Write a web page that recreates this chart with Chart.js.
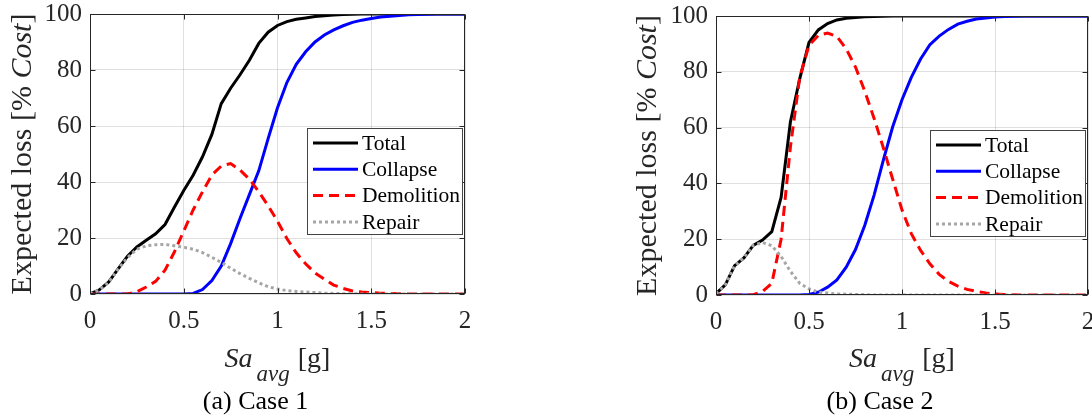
<!DOCTYPE html>
<html>
<head>
<meta charset="utf-8">
<script src="https://cdn.jsdelivr.net/npm/chart.js@4.4.1/dist/chart.umd.min.js"></script>
<style>
    html, body { margin: 0; padding: 0; background: #fff; }
    .wrap { position: relative; width: 1092px; height: 417px; overflow: hidden; font-family: 'Liberation Serif', serif; }
    .panel { position: absolute; top: 0; width: 546px; height: 417px; }
    #panelA { left: 0; }
    #panelB { left: 546px; }
</style>
</head>
<body>
<div class="wrap">
    <div class="panel" id="panelA"><canvas id="chartA" width="546" height="417"></canvas></div>
    <div class="panel" id="panelB"><canvas id="chartB" width="546" height="417"></canvas></div>
</div>
<script>
// Sa_avg [g]
const sa = [0, 0.05, 0.1, 0.15, 0.2, 0.25, 0.3, 0.35, 0.4, 0.45, 0.5, 0.55, 0.6, 0.65, 0.7, 0.75, 0.8, 0.85, 0.9, 0.95,
            1, 1.05, 1.1, 1.15, 1.2, 1.25, 1.3, 1.35, 1.4, 1.45, 1.5, 1.55, 1.6, 1.65, 1.7, 1.75, 1.8, 1.85, 1.9, 1.95, 2];

const xTicks = [0, 0.5, 1, 1.5, 2];
const xTickLabels = ['0', '0.5', '1', '1.5', '2'];
const yTicks = [0, 20, 40, 60, 80, 100];
const seriesNames = ['Total', 'Collapse', 'Demolition', 'Repair'];

// (a) Case 1
const totalA = [0, 1.5, 4.3, 9, 13.5, 16.8, 19.2, 21.5, 24.8, 31, 37, 42.4, 49, 57, 68, 73.5, 78.3, 83.5, 89.5, 93.5,
                95.9, 97.3, 98.1, 98.6, 99.1, 99.4, 99.6, 99.8, 99.9, 100, 100, 100, 100, 100, 100, 100, 100, 100, 100, 100, 100];
const collapseA = [0, 0, 0, 0, 0, 0, 0, 0, 0, 0, 0, 0.2, 1.6, 4.8, 10, 18, 27, 35.5, 44, 55.5,
                   66.5, 75.5, 82, 86.5, 90, 92.5, 94.3, 95.8, 97, 97.8, 98.4, 98.9, 99.2, 99.5, 99.7, 99.8, 99.9, 100, 100, 100, 100];
const demolitionA = [0, 0, 0, 0, 0, 0.8, 2.5, 4.5, 8.5, 15, 22.5, 30, 36.5, 42.5, 45.7, 46.6, 44.3, 41, 36.5, 31.5,
                     26, 19.8, 14.7, 10.8, 7.5, 5.3, 3.2, 2, 1.1, 0.7, 0.5, 0.3, 0.2, 0.1, 0, 0, 0, 0, 0, 0, 0];
const repairA = [0, 1.5, 4.2, 8.9, 13, 16, 17.2, 17.6, 17.7, 17.2, 16.7, 16, 14.8, 13.1, 11.3, 9.2, 7.3, 5.6, 4, 2.6,
                 1.8, 1.2, 0.9, 0.7, 0.5, 0.3, 0.2, 0.1, 0.1, 0, 0, 0, 0, 0, 0, 0, 0, 0, 0, 0, 0];

// (b) Case 2
const totalB = [0.5, 3.6, 10.5, 13.3, 17.8, 19.7, 22.7, 35, 62, 77.5, 90.5, 95, 97.3, 98.6, 99.2, 99.5, 99.7, 99.8, 99.9, 100,
                100, 100, 100, 100, 100, 100, 100, 100, 100, 100, 100, 100, 100, 100, 100, 100, 100, 100, 100, 100, 100];
const collapseB = [0, 0, 0, 0, 0, 0, 0, 0, 0, 0, 0.2, 1, 2.8, 5.4, 10, 16.3, 25, 35.8, 48.4, 60.3,
                   70, 78, 84.6, 89.7, 92.8, 95.2, 97.1, 98.1, 98.9, 99.3, 99.6, 99.8, 99.9, 100, 100, 100, 100, 100, 100, 100, 100];
const demolitionB = [0, 0, 0, 0, 0.1, 1.2, 4.2, 20, 53, 78, 89.5, 93, 93.9, 92.7, 88.2, 81.7, 73, 63.3, 52.7, 41.5,
                     30.5, 22, 16, 11.2, 7.4, 4.9, 3.2, 2, 1.3, 0.7, 0.4, 0.2, 0.1, 0, 0, 0, 0, 0, 0, 0, 0];
const repairB = [0.5, 3.6, 10.5, 13.3, 17.8, 18.8, 17.7, 13.8, 8.5, 4.2, 2.2, 1, 0.7, 0.4, 0.3, 0.2, 0.1, 0, 0, 0,
                 0, 0, 0, 0, 0, 0, 0, 0, 0, 0, 0, 0, 0, 0, 0, 0, 0, 0, 0, 0, 0];

const FONT = '"Liberation Serif", "Times New Roman", "DejaVu Serif", serif';
const INK = '#262626';

// draws a row of text pieces with different fonts, centred on x
function drawRuns(ctx, runs, x, y) {
    let w = 0;
    runs.forEach(r => { ctx.font = r.font; w += ctx.measureText(r.text).width + (r.dx || 0); });
    let cur = x - w / 2;
    runs.forEach(r => {
        ctx.font = r.font;
        cur += r.dx || 0;
        ctx.fillText(r.text, cur, y + (r.dy || 0));
        cur += ctx.measureText(r.text).width;
    });
}

// axes box with inward ticks (MATLAB look)
const frame = {
    id: 'frame',
    afterDatasetsDraw(chart) {
        const {ctx, chartArea: a, scales: {x, y}} = chart;
        const L = Math.round(a.left) + 0.5, R = Math.round(a.right) - 0.5;
        const T = Math.round(a.top) + 0.5, B = Math.round(a.bottom) - 0.5;
        ctx.save();
        ctx.strokeStyle = INK;
        ctx.lineWidth = 1;
        ctx.strokeRect(L, T, R - L, B - T);
        ctx.beginPath();
        xTicks.forEach(v => {
            const px = Math.round(x.getPixelForValue(v)) + 0.5;
            ctx.moveTo(px, B); ctx.lineTo(px, B - 5);
            ctx.moveTo(px, T); ctx.lineTo(px, T + 5);
        });
        yTicks.forEach(v => {
            const py = Math.round(y.getPixelForValue(v)) + 0.5;
            ctx.moveTo(L, py); ctx.lineTo(L + 5, py);
            ctx.moveTo(R, py); ctx.lineTo(R - 5, py);
        });
        ctx.stroke();
        ctx.restore();
    }
};

// axis titles and caption
const titles = {
    id: 'titles',
    afterDraw(chart, args, opts) {
        const {ctx, chartArea: a} = chart;
        const cx = (a.left + a.right) / 2;
        ctx.save();
        ctx.fillStyle = INK;
        ctx.textBaseline = 'alphabetic';

        drawRuns(ctx, [
            {text: 'Sa', font: `italic 28px ${FONT}`},
            {text: 'avg', font: `italic 23px ${FONT}`, dx: 4, dy: 14},
            {text: '[g]', font: `28px ${FONT}`, dx: 8}
        ], cx, opts.xTitleY);

        ctx.fillStyle = '#000';
        drawRuns(ctx, [{text: opts.caption, font: `26px ${FONT}`}], cx - 22, opts.captionY);

        ctx.fillStyle = INK;
        ctx.translate(opts.yTitleX, (a.top + a.bottom) / 2);
        ctx.rotate(-Math.PI / 2);
        drawRuns(ctx, [
            {text: 'Expected loss [% ', font: `30px ${FONT}`},
            {text: 'Cost', font: `italic 30px ${FONT}`},
            {text: ']', font: `30px ${FONT}`}
        ], 0, 0);
        ctx.restore();
    }
};

// boxed legend inside the axes
const boxLegend = {
    id: 'boxLegend',
    afterDraw(chart) {
        const {ctx, chartArea: a} = chart;
        const w = 156, h = 107;
        const left = Math.round(a.right - 2 - w), top = Math.round(a.top + 114);
        ctx.save();
        ctx.fillStyle = '#fff';
        ctx.fillRect(left, top, w, h);
        ctx.strokeStyle = '#444';
        ctx.lineWidth = 1;
        ctx.strokeRect(left + 0.5, top + 0.5, w - 1, h - 1);
        chart.data.datasets.forEach((ds, i) => {
            const yy = top + 15 + i * 26.3;
            ctx.strokeStyle = ds.borderColor;
            ctx.lineWidth = ds.borderWidth;
            ctx.setLineDash(ds.borderDash || []);
            ctx.beginPath();
            ctx.moveTo(left + 6, yy);
            ctx.lineTo(left + 51, yy);
            ctx.stroke();
            ctx.setLineDash([]);
            ctx.fillStyle = '#000';
            ctx.font = `21.5px ${FONT}`;
            ctx.textBaseline = 'middle';
            ctx.fillText(ds.label, left + 55, yy + 1);
        });
        ctx.restore();
    }
};

function points(values) {
    return sa.map((v, i) => ({x: v, y: values[i]}));
}

function makeChart(id, series, box) {
    const styles = [
        {color: '#000000', dash: [], order: 4},
        {color: '#0000ff', dash: [], order: 3},
        {color: '#ff0000', dash: [10, 6], order: 2},
        {color: '#a6a6a6', dash: [3, 3], order: 1}
    ];
    return new Chart(document.getElementById(id), {
        type: 'line',
        data: {
            datasets: series.map((vals, i) => ({
                label: seriesNames[i],
                data: points(vals),
                borderColor: styles[i].color,
                borderDash: styles[i].dash,
                borderWidth: 3,
                pointRadius: 0,
                tension: 0,
                order: styles[i].order
            }))
        },
        options: {
            responsive: false,
            devicePixelRatio: 1,
            animation: false,
            layout: {padding: {left: 0, top: box.top, right: box.right, bottom: 0}},
            plugins: {
                legend: {display: false},
                tooltip: {enabled: false},
                titles: {caption: box.caption, xTitleY: 367, captionY: 409, yTitleX: box.yTitleX}
            },
            scales: {
                x: {
                    type: 'linear',
                    min: 0,
                    max: 2,
                    afterBuildTicks: s => { s.ticks = xTicks.map(v => ({value: v})); },
                    afterFit: s => { s.height = box.xHeight; s.paddingLeft = 0; s.paddingRight = 0; },
                    grid: {color: 'rgba(0,0,0,0.12)', drawTicks: false},
                    border: {display: false},
                    ticks: {
                        color: INK, font: {family: FONT, size: 25}, padding: 12, maxRotation: 0, autoSkip: false,
                        callback: v => xTickLabels[xTicks.indexOf(v)]
                    }
                },
                y: {
                    min: 0,
                    max: 100,
                    afterBuildTicks: s => { s.ticks = yTicks.map(v => ({value: v})); },
                    afterFit: s => { s.width = box.yWidth; s.paddingTop = 0; s.paddingBottom = 0; },
                    grid: {color: 'rgba(0,0,0,0.12)', drawTicks: false},
                    border: {display: false},
                    ticks: {color: INK, font: {family: FONT, size: 25}, padding: 8}
                }
            }
        },
        plugins: [frame, titles, boxLegend]
    });
}

function drawAll() {
    makeChart('chartA', [totalA, collapseA, demolitionA, repairA],
        {top: 14, right: 81, yWidth: 90, xHeight: 123, yTitleX: 31, caption: '(a) Case 1'});
    makeChart('chartB', [totalB, collapseB, demolitionB, repairB],
        {top: 16, right: 4, yWidth: 170, xHeight: 122, yTitleX: 110, caption: '(b) Case 2'});
}

// make sure the serif face is ready before the canvas text is drawn
Promise.all([
    document.fonts.load('24px "Liberation Serif"'),
    document.fonts.load('italic 24px "Liberation Serif"')
]).then(drawAll, drawAll);
</script>
</body>
</html>
